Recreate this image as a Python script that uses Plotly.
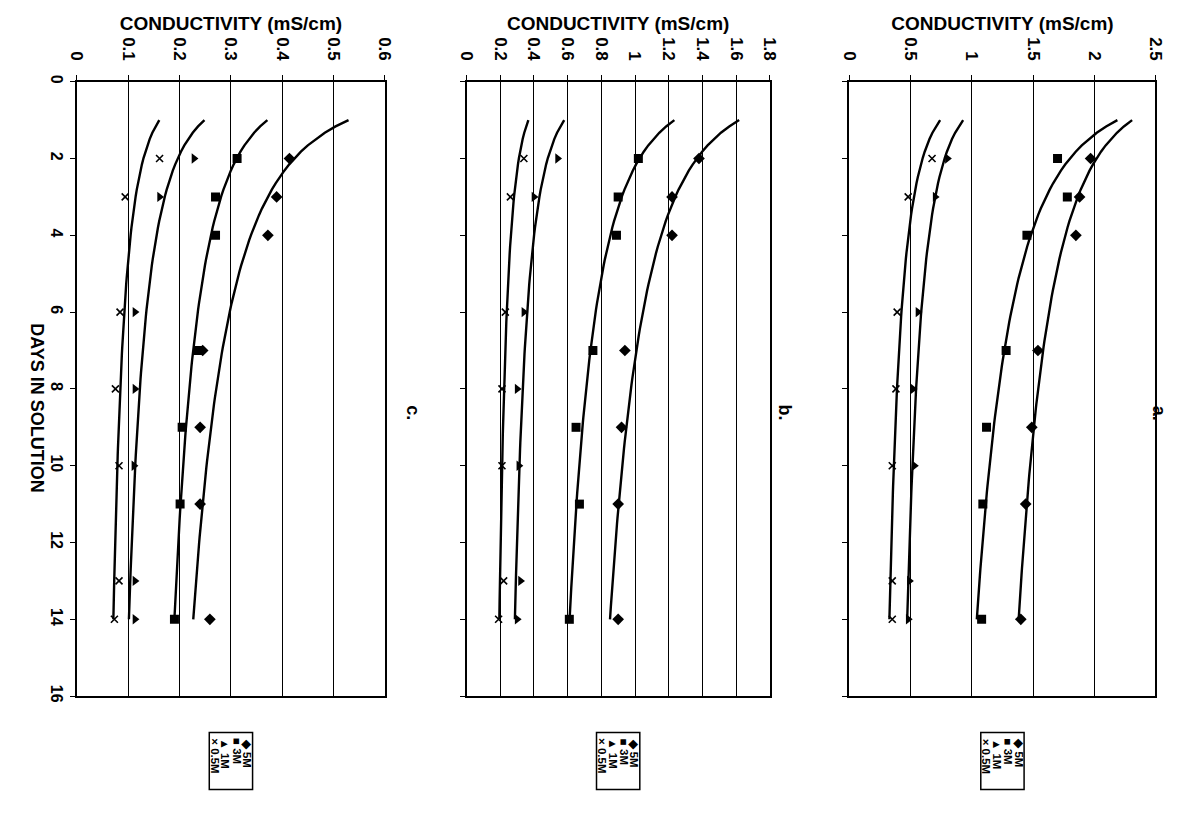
import numpy as np
import plotly.graph_objects as go

# ---------------- data ----------------
series_names = ["5M", "3M", "1M", "0.5M"]
days_hi = [2, 3, 4, 7, 9, 11, 14]      # sampling days for 5M and 3M
days_lo = [2, 3, 6, 8, 10, 13, 14]     # sampling days for 1M and 0.5M

a_5M = [1.97, 1.88, 1.85, 1.54, 1.49, 1.44, 1.40]
a_3M = [1.70, 1.78, 1.45, 1.28, 1.12, 1.09, 1.08]
a_1M = [0.80, 0.70, 0.56, 0.52, 0.53, 0.49, 0.48]
a_05M = [0.675, 0.48, 0.39, 0.38, 0.35, 0.35, 0.35]

b_5M = [1.38, 1.22, 1.22, 0.94, 0.92, 0.90, 0.90]
b_3M = [1.02, 0.90, 0.89, 0.75, 0.65, 0.67, 0.61]
b_1M = [0.54, 0.40, 0.34, 0.30, 0.31, 0.32, 0.30]
b_05M = [0.34, 0.26, 0.23, 0.21, 0.21, 0.22, 0.19]

c_5M = [0.414, 0.389, 0.372, 0.245, 0.240, 0.240, 0.259]
c_3M = [0.312, 0.270, 0.270, 0.236, 0.205, 0.201, 0.190]
c_1M = [0.228, 0.161, 0.113, 0.113, 0.111, 0.113, 0.113]
c_05M = [0.161, 0.094, 0.084, 0.075, 0.082, 0.082, 0.073]

panel_labels = ["c.", "b.", "a."]
cond_max = [0.6, 1.8, 2.5]
cond_dtick = [0.1, 0.2, 0.5]
day_range = [0, 16]
day_dtick = 2
trend_days = [1, 14]   # extent of the power trendlines

# ---------------- layout helpers ----------------
W, H = 1193, 825
def fx(p):
    return p / W
def fy(p):
    return 1 - p / H

panel_px = [(68, 381), (464, 772), (853, 1164)]
top_px, bot_px = 76, 701

symbols = ["diamond", "square", "triangle-right", "x-thin"]
legend_glyph = ["\u25C6", "\u25A0", "\u25B2", "\u00D7"]

panel_data = [
    [c_5M, c_3M, c_1M, c_05M],
    [b_5M, b_3M, b_1M, b_05M],
    [a_5M, a_3M, a_1M, a_05M],
]
series_days = [days_hi, days_hi, days_lo, days_lo]

FONT = "Liberation Sans, Arial, sans-serif"
fig = go.Figure()

for i, vals_list in enumerate(panel_data):
    xa = "x" if i == 0 else f"x{i+1}"
    ya = "y" if i == 0 else f"y{i+1}"
    for s, vals in enumerate(vals_list):
        d = np.array(series_days[s], dtype=float)
        v = np.array(vals, dtype=float)
        # power-law trendline fitted to the data (as in the source chart)
        b, ln_a = np.polyfit(np.log(d), np.log(v), 1)
        td = np.linspace(trend_days[0], trend_days[1], 80)
        tv = np.exp(ln_a) * td ** b
        fig.add_trace(go.Scatter(x=tv, y=td, mode="lines", xaxis=xa, yaxis=ya,
                                 line=dict(color="black", width=2.4),
                                 showlegend=False, hoverinfo="skip"))
        mk = dict(symbol=symbols[s], size=9 if s < 3 else 7, color="black",
                  line=dict(color="black", width=1.6 if s == 3 else 0))
        fig.add_trace(go.Scatter(x=v, y=d, mode="markers", xaxis=xa, yaxis=ya,
                                 marker=mk, name=series_names[s], showlegend=False))

layout = dict(width=W, height=H, margin=dict(l=0, r=0, t=0, b=0),
              paper_bgcolor="white", plot_bgcolor="white",
              font=dict(family=FONT, color="black"), showlegend=False)

annotations = []
shapes = []
for i in range(3):
    x0, x1 = panel_px[i]
    xk = "xaxis" if i == 0 else f"xaxis{i+1}"
    yk = "yaxis" if i == 0 else f"yaxis{i+1}"
    ya = "y" if i == 0 else f"y{i+1}"
    xa = "x" if i == 0 else f"x{i+1}"
    layout[xk] = dict(domain=[fx(x0), fx(x1)], anchor=ya, side="top",
                      range=[0, cond_max[i]], dtick=cond_dtick[i], tick0=0,
                      showgrid=True, gridcolor="black", gridwidth=1,
                      zeroline=False, showline=True, linecolor="black", linewidth=2,
                      mirror=True, ticks="outside", ticklen=5, tickcolor="black",
                      ticklabelstandoff=8,
                      tickangle=90, tickfont=dict(size=17, weight="bold", family=FONT),
                      title=dict(text="CONDUCTIVITY (mS/cm)", standoff=1,
                                 font=dict(size=19, weight="bold", family=FONT)))
    layout[yk] = dict(domain=[fy(bot_px), fy(top_px)], anchor=xa,
                      range=[day_range[1], day_range[0]], dtick=day_dtick, tick0=0,
                      showgrid=False, zeroline=False, showline=True, linecolor="black",
                      linewidth=2, mirror=True, ticks="outside", ticklen=5,
                      tickcolor="black", tickangle=90, showticklabels=(i == 0),
                      tickfont=dict(size=16, weight="bold", family=FONT))
    # panel letter
    annotations.append(dict(x=fx(x1 + 16), y=fy(413), xref="paper", yref="paper",
                            text=panel_labels[i], textangle=90, showarrow=False,
                            font=dict(size=18, weight="bold", family=FONT)))
    # legend box (rotated legend)
    cx = (x0 + x1) / 2
    lw, ltop, lbot = 44, 738, 796
    shapes.append(dict(type="rect", xref="paper", yref="paper",
                       x0=fx(cx - lw / 2), x1=fx(cx + lw / 2), y0=fy(lbot), y1=fy(ltop),
                       line=dict(color="black", width=1.5), fillcolor="white"))
    col_w = lw / 4
    for s in range(4):
        col = 3 - s  # 5M rightmost
        annotations.append(dict(x=fx(cx - lw / 2 + col_w * (col + 0.5)), y=fy(ltop + 4),
                                xref="paper", yref="paper", xanchor="center", yanchor="top",
                                text=f"{legend_glyph[s]} {series_names[s]}", textangle=90,
                                showarrow=False,
                                font=dict(size=11.5, weight="bold", family=FONT)))

annotations.append(dict(x=fx(15), y=fy(408), xref="paper", yref="paper",
                        text="DAYS IN SOLUTION", textangle=90, showarrow=False,
                        font=dict(size=18, weight="bold", family=FONT)))

layout["annotations"] = annotations
layout["shapes"] = shapes
fig.update_layout(**layout)
# remove the browser's default 8px body margin so the figure sits at the page origin
fig.write_html("out.html", config={"displayModeBar": False},
               post_script="document.body.style.margin='0px';document.body.style.overflow='hidden';")
